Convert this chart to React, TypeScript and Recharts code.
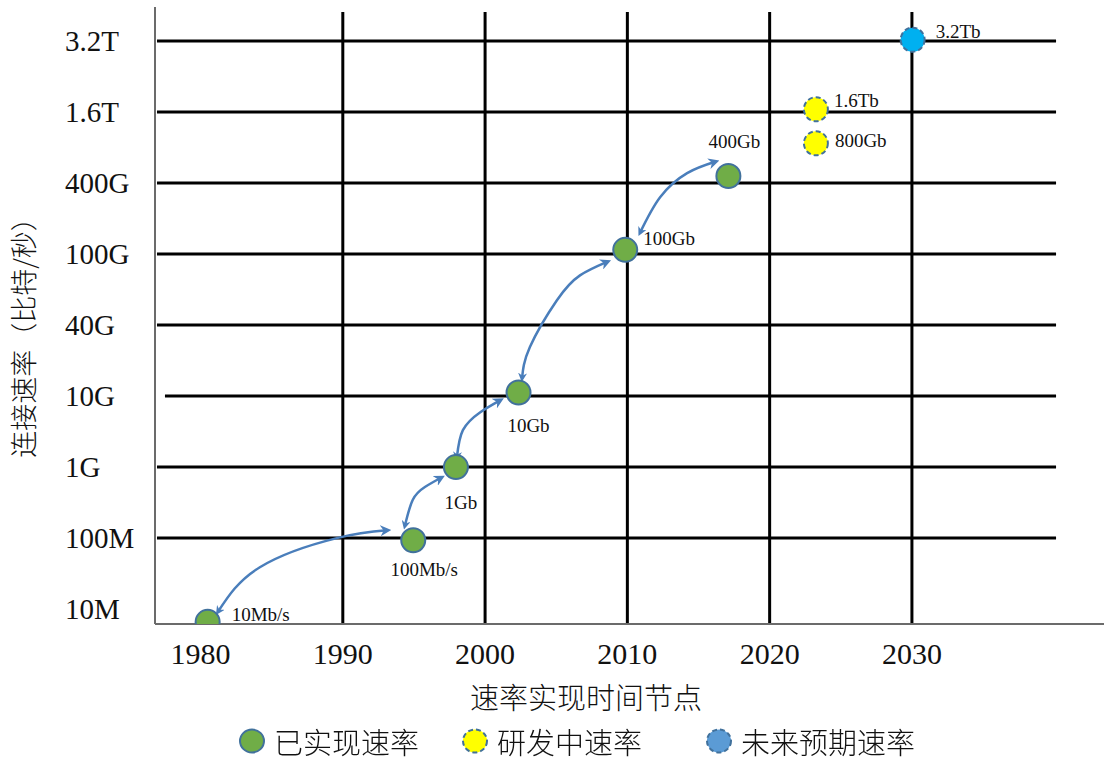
import React from 'react'
import { ComposedChart, Scatter, Line, XAxis, YAxis, ReferenceLine, Label } from 'recharts'

// 以太网速率演进 —— x 为年份, y 为速率档位序号 (0 = 10M ... 8 = 3.2T)

const yTickLabels = ['10M', '100M', '1G', '10G', '40G', '100G', '400G', '1.6T', '3.2T']
const yTicks = [0, 1, 2, 3, 4, 5, 6, 7, 8]
const xTicks = [1980, 1990, 2000, 2010, 2020, 2030]
const gridYears = [1990, 2000, 2010, 2020, 2030]

// 已实现速率
const achievedYears = [1980.5, 1994.95, 1997.95, 2002.35, 2009.85, 2017.1]
const achievedLevels = [-0.18, 0.97, 2, 3.05, 5.06, 6.1]
const achievedLabels = ['10Mb/s', '100Mb/s', '1Gb', '10Gb', '100Gb', '400Gb']

// 研发中速率
const researchYears = [2023.25, 2023.25]
const researchLevels = [7.04, 6.56]
const researchLabels = ['1.6Tb', '800Gb']

// 未来预期速率
const futureYears = [2030.05]
const futureLevels = [8.02]
const futureLabels = ['3.2Tb']

// 曲线箭头 (年份, 档位)
const arrow10M = [[1981.22, -0.04], [1984.17, 0.59], [1989.58, 1.0], [1993.1, 1.11]]
const arrow100M = [[1994.36, 1.17], [1994.92, 1.54], [1995.77, 1.72], [1996.9, 1.85]]
const arrow1G = [[1998.02, 2.14], [1998.44, 2.52], [1999.64, 2.77], [2001.05, 2.94]]
const arrow10G = [[2002.6, 3.25], [2003.15, 3.69], [2005.05, 4.35], [2006.67, 4.7], [2008.57, 4.89]]
const arrow100G = [[2010.89, 5.3], [2012.3, 5.8], [2014.2, 6.14], [2016.17, 6.3]]
const arrows = [arrow10M, arrow100M, arrow1G, arrow10G, arrow100G]

// 坐标范围 / 网格线范围
const X_DOMAIN: [number, number] = [1976.8, 2043.5]
const Y_DOMAIN: [number, number] = [-0.21, 8.48]
const GRID_LEFT = 1976.94
const GRID_LEFT_10G = 1977.5
const GRID_RIGHT = 2040.13
const GRID_TOP = 8.41

const SERIF = "'Liberation Serif', 'Times New Roman', serif"
const CJK = "'Noto Sans CJK SC', 'Noto Sans', sans-serif"
const EDGE = '#41719c'
const ARROW = '#4a7ebb'

// 点标签的位置
const labelPlacement: Record<string, { dx: number; dy: number; anchor: 'start' | 'middle' }> = {
  '10Mb/s': { dx: 24, dy: -1, anchor: 'start' },
  '100Mb/s': { dx: 11, dy: 36, anchor: 'middle' },
  '1Gb': { dx: 5, dy: 42, anchor: 'middle' },
  '10Gb': { dx: 10, dy: 39, anchor: 'middle' },
  '100Gb': { dx: 18, dy: -5, anchor: 'start' },
  '400Gb': { dx: 6, dy: -28, anchor: 'middle' },
  '1.6Tb': { dx: 18, dy: -2, anchor: 'start' },
  '800Gb': { dx: 19, dy: 4, anchor: 'start' },
  '3.2Tb': { dx: 23, dy: -2, anchor: 'start' },
}

const toPoints = (xs: number[], ys: number[], labels: string[]) =>
  xs.map((x, i) => ({ x, y: ys[i], label: labels[i] }))

const achieved = toPoints(achievedYears, achievedLevels, achievedLabels)
const research = toPoints(researchYears, researchLevels, researchLabels)
const future = toPoints(futureYears, futureLevels, futureLabels)

function makeDot(fill: string, dashed: boolean) {
  return (p: any) => {
    const place = labelPlacement[p.payload.label]
    return (
      <g>
        <circle
          cx={p.cx}
          cy={p.cy}
          r={12}
          fill={fill}
          stroke={EDGE}
          strokeWidth={2}
          strokeDasharray={dashed ? '5 3' : undefined}
        />
        <text
          x={p.cx + place.dx}
          y={p.cy + place.dy}
          textAnchor={place.anchor}
          fontFamily={SERIF}
          fontSize={19}
          fill="#111"
        >
          {p.payload.label}
        </text>
      </g>
    )
  }
}

function YTick({ y, payload }: any) {
  return (
    <text x={65} y={y} dy="0.35em" textAnchor="start" fontFamily={SERIF} fontSize={29} fill="#111">
      {yTickLabels[payload.value]}
    </text>
  )
}

function XTick({ x, y, payload }: any) {
  return (
    <text x={x} y={y + 40} textAnchor="middle" fontFamily={SERIF} fontSize={30} fill="#111">
      {payload.value}
    </text>
  )
}

function LegendDot({ fill, dashed }: { fill: string; dashed: boolean }) {
  return (
    <svg width={28} height={28} style={{ display: 'block' }}>
      <ellipse cx={14} cy={14} rx={12} ry={11.5} fill={fill} stroke={EDGE} strokeWidth={2}
        strokeDasharray={dashed ? '5 3' : undefined} />
    </svg>
  )
}

const legendItems = [
  { name: '已实现速率', fill: '#70ad47', dashed: false, left: 238 },
  { name: '研发中速率', fill: '#ffff00', dashed: true, left: 461 },
  { name: '未来预期速率', fill: '#5b9bd5', dashed: true, left: 705 },
]

export default function App() {
  return (
    <div style={{ position: 'fixed', left: 0, top: 0, width: 1104, height: 760, background: '#fff' }}>
      <svg width={0} height={0} style={{ position: 'absolute' }}>
        <defs>
          <marker id="arrowHead" viewBox="0 0 10 10" refX={6} refY={5} markerWidth={11} markerHeight={11}
            markerUnits="userSpaceOnUse" orient="auto">
            <path d="M0,0 L10,5 L0,10 L3,5 z" fill={ARROW} />
          </marker>
          <marker id="arrowTail" viewBox="0 0 10 10" refX={6} refY={5} markerWidth={9} markerHeight={9}
            markerUnits="userSpaceOnUse" orient="auto-start-reverse">
            <path d="M0,0 L10,5 L0,10 L3,5 z" fill={ARROW} />
          </marker>
        </defs>
      </svg>

      <ComposedChart width={1104} height={760} margin={{ top: 7, right: 0, bottom: 0, left: 0 }}>
        <XAxis
          type="number"
          dataKey="x"
          domain={X_DOMAIN}
          ticks={xTicks}
          allowDataOverflow
          height={136}
          tickLine={false}
          tickSize={0}
          tickMargin={0}
          tick={<XTick />}
          axisLine={{ stroke: '#6b6b6b', strokeWidth: 2 }}
        >
          <Label
            content={() => (
              <text x={586} y={699} dy="0.35em" textAnchor="middle" fontFamily={CJK} fontWeight={300}
                fontSize={29} fill="#111">
                速率实现时间节点
              </text>
            )}
          />
        </XAxis>
        <YAxis
          type="number"
          dataKey="y"
          domain={Y_DOMAIN}
          ticks={yTicks}
          allowDataOverflow
          width={155}
          tickLine={false}
          tick={<YTick />}
          axisLine={{ stroke: '#6b6b6b', strokeWidth: 2 }}
        >
          <Label
            content={() => (
              <text x={25} y={331} dy="0.35em" textAnchor="middle" transform="rotate(-90 25 331)"
                fontFamily={CJK} fontWeight={300} fontSize={27} fill="#111">
                连接速率（比特/秒）
              </text>
            )}
          />
        </YAxis>

        {yTicks.slice(1).map(level => (
          <ReferenceLine
            key={'h' + level}
            segment={[{ x: level === 3 ? GRID_LEFT_10G : GRID_LEFT, y: level }, { x: GRID_RIGHT, y: level }]}
            stroke="#000"
            strokeWidth={3}
          />
        ))}
        {gridYears.map(year => (
          <ReferenceLine
            key={'v' + year}
            segment={[{ x: year, y: Y_DOMAIN[0] }, { x: year, y: GRID_TOP }]}
            stroke="#000"
            strokeWidth={3}
          />
        ))}

        {arrows.map((pts, i) => (
          <Line
            key={'a' + i}
            data={pts.map(([x, y]) => ({ x, y }))}
            dataKey="y"
            type="natural"
            stroke={ARROW}
            strokeWidth={2.5}
            dot={false}
            activeDot={false}
            markerEnd="url(#arrowHead)"
            markerStart="url(#arrowTail)"
            isAnimationActive={false}
          />
        ))}

        <Scatter data={achieved} dataKey="y" shape={makeDot('#70ad47', false)} isAnimationActive={false} />
        <Scatter data={research} dataKey="y" shape={makeDot('#ffff00', true)} isAnimationActive={false} />
        <Scatter data={future} dataKey="y" shape={makeDot('#00b0f0', true)} isAnimationActive={false} />
      </ComposedChart>

      {legendItems.map(item => (
        <div key={item.name} style={{ position: 'absolute', left: item.left, top: 727, display: 'flex', alignItems: 'center' }}>
          <LegendDot fill={item.fill} dashed={item.dashed} />
          <span style={{ fontFamily: CJK, fontWeight: 300, fontSize: 29, color: '#111', marginLeft: 8, lineHeight: '28px' }}>
            {item.name}
          </span>
        </div>
      ))}
    </div>
  )
}
